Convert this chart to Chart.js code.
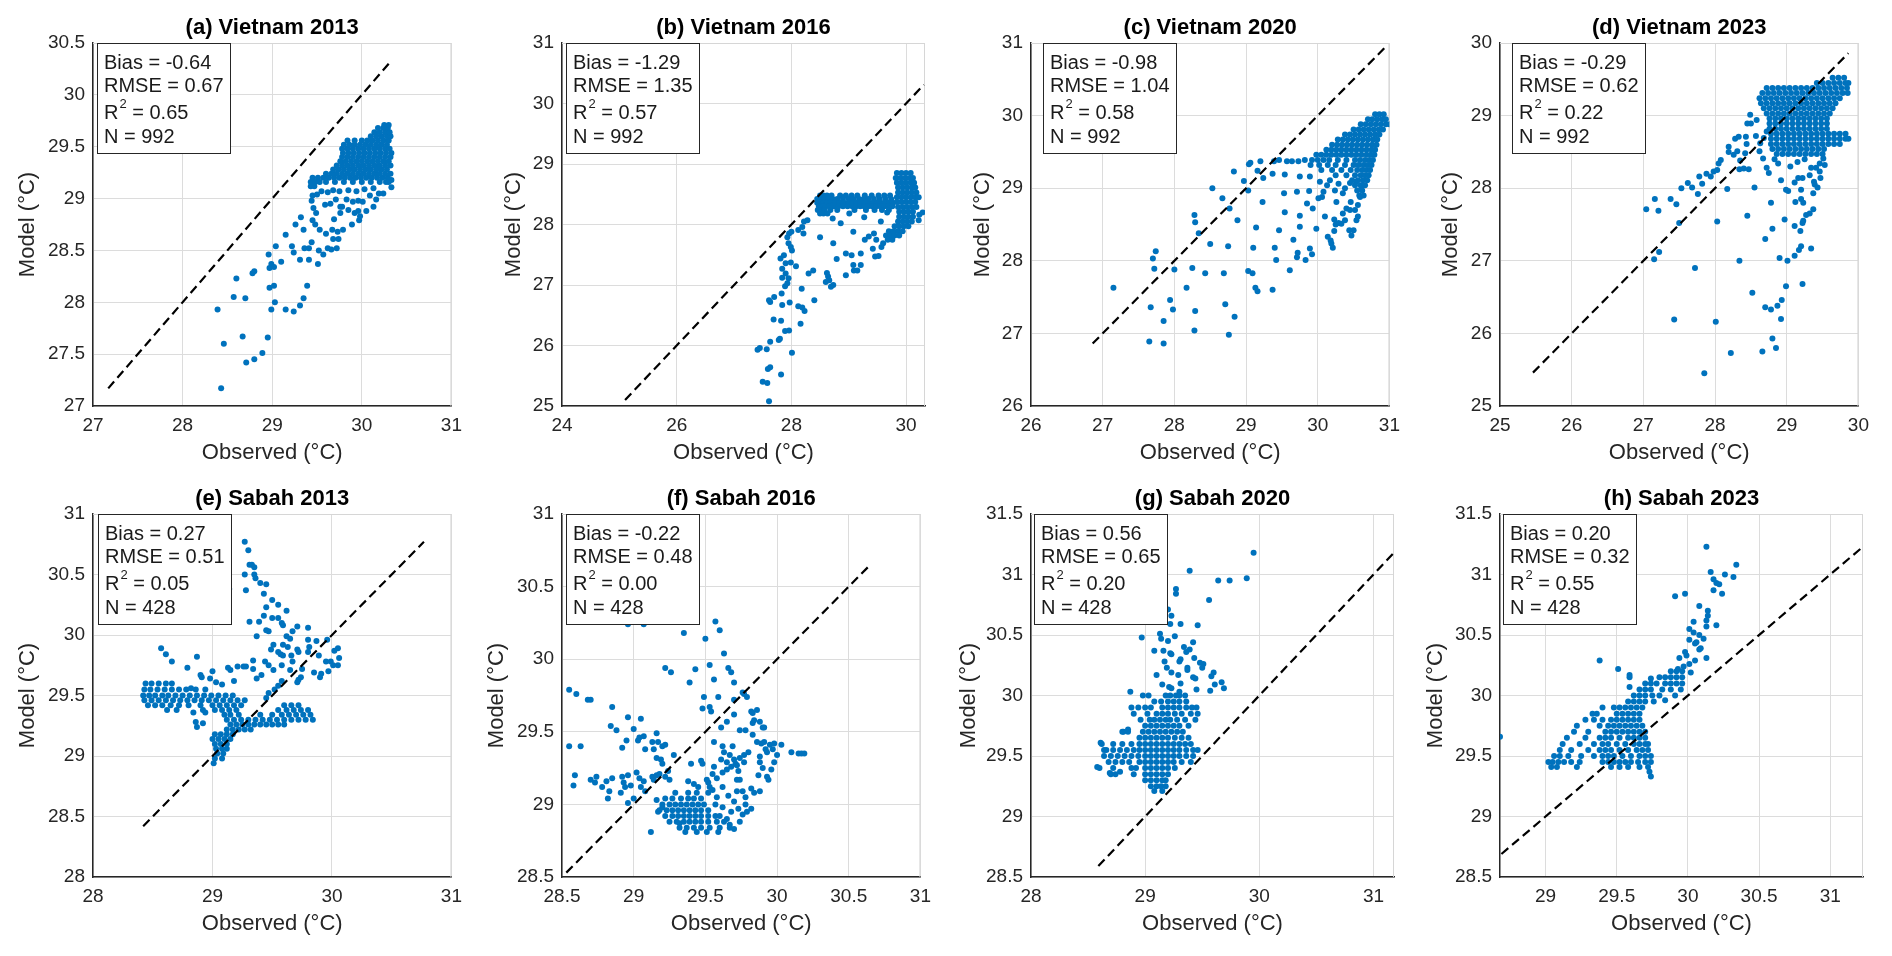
<!DOCTYPE html>
<html>
<head>
<meta charset="utf-8">
<script src="https://cdn.jsdelivr.net/npm/chart.js@4.4.1/dist/chart.umd.min.js"></script>
<style>
  html, body { margin: 0; padding: 0; background: #fff; }
  body { width: 1892px; height: 956px; position: relative; overflow: hidden; }
  canvas { position: absolute; }
</style>
</head>
<body>
<script>
// ---- panel texts ----
const titles = ['(a) Vietnam 2013', '(b) Vietnam 2016', '(c) Vietnam 2020', '(d) Vietnam 2023',
                '(e) Sabah 2013', '(f) Sabah 2016', '(g) Sabah 2020', '(h) Sabah 2023'];
const biasText = ['-0.64', '-1.29', '-0.98', '-0.29', '0.27', '-0.22', '0.56', '0.20'];
const rmseText = ['0.67', '1.35', '1.04', '0.62', '0.51', '0.48', '0.65', '0.32'];
const r2Text   = ['0.65', '0.57', '0.58', '0.22', '0.05', '0.00', '0.20', '0.55'];
const nText    = ['992', '992', '992', '992', '428', '428', '428', '428'];

// ---- axis limits and ticks ----
const xMin = [27, 24, 26, 25, 28, 28.5, 28, 28.68];
const xMax = [31, 30.33, 31, 30, 31, 31, 31.18, 31.23];
const yMin = [27, 25, 26, 25, 28, 28.5, 28.5, 28.5];
const yMax = [30.5, 31, 31, 30, 31, 31, 31.5, 31.5];
const xTicks = [
  [27, 28, 29, 30, 31], [24, 26, 28, 30], [26, 27, 28, 29, 30, 31], [25, 26, 27, 28, 29, 30],
  [28, 29, 30, 31], [28.5, 29, 29.5, 30, 30.5, 31], [28, 29, 30, 31], [29, 29.5, 30, 30.5, 31]
];
const yTicks = [
  [27, 27.5, 28, 28.5, 29, 29.5, 30, 30.5], [25, 26, 27, 28, 29, 30, 31], [26, 27, 28, 29, 30, 31],
  [25, 26, 27, 28, 29, 30], [28, 28.5, 29, 29.5, 30, 30.5, 31], [28.5, 29, 29.5, 30, 30.5, 31],
  [28.5, 29, 29.5, 30, 30.5, 31, 31.5], [28.5, 29, 29.5, 30, 30.5, 31, 31.5]
];
// 1:1 reference line ends
const lineFrom = [27.17, 25.1, 26.86, 25.46, 28.42, 28.53, 28.59, 28.69];
const lineTo   = [30.33, 30.31, 30.95, 29.86, 30.77, 30.65, 31.19, 31.23];

// ---- observed / model pairs ----
const vn2013 = [
  [28.43,27.17],[28.39,27.93],[28.46,27.60],[28.57,28.05],[28.60,28.23],[28.70,28.04],[28.67,27.67],[28.71,27.42],
  [28.80,27.45],[28.89,27.51],[28.95,27.66],[28.78,28.28],[28.80,28.30],[28.96,28.46],[28.97,28.33],[28.99,28.37],
  [29.02,28.34],[28.97,28.14],[29.02,28.16],[28.99,27.93],[29.03,28.00],[29.04,28.54],[29.10,28.39],[29.15,28.65],
  [29.15,27.93],[29.24,27.91],[29.22,28.54],[29.24,28.48],[29.26,28.75],[29.31,28.41],[29.31,27.97],[29.32,28.82],
  [29.35,28.04],[29.36,28.52],[29.39,28.16],[29.41,28.52],[29.41,28.41],[29.44,28.58],[29.35,28.70],[29.45,28.79],
  [29.48,28.75],[29.52,28.50],[29.51,28.37],[29.53,28.70],[29.57,28.46],[29.60,28.66],[29.62,28.52],[29.66,28.51],
  [29.67,28.70],[29.68,28.61],[29.72,28.52],[29.74,28.61],[29.73,28.68],[29.79,28.70],[29.69,28.80],[29.76,28.86],
  [29.78,28.92],[29.89,28.75],[29.97,28.79],[29.98,28.83],[30.05,28.88],[30.13,28.92],[30.16,28.99],[29.44,28.98],
  [29.45,29.03],[29.46,28.91],[29.49,28.86],[29.59,28.94],[29.65,28.95],[29.71,28.99],[29.76,28.92],[29.83,28.99],
  [29.85,28.89],[29.90,28.97],[29.92,28.86],[29.96,28.88],[29.96,28.98],[30.01,28.97],[30.09,29.03],[30.19,29.05],
  [30.24,29.05],[30.33,29.11],[30.27,29.16],[30.33,29.18],[29.50,29.04],[29.55,29.07],[29.62,29.06],[29.68,29.08],
  [29.75,29.07],[29.85,29.08],[29.94,29.07],[30.03,29.09],[30.13,29.10],
  [29.43,29.12],[29.47,29.12],
  [29.43,29.16],[29.48,29.16],[29.53,29.16],[29.60,29.16],[29.70,29.16],[29.80,29.16],[29.90,29.16],[30.00,29.16],[30.10,29.16],[30.20,29.16],[30.30,29.16],
  [29.45,29.20],[29.51,29.20],[29.57,29.20],[29.63,29.20],[29.69,29.20],[29.75,29.20],[29.81,29.20],[29.87,29.20],[29.93,29.20],[29.99,29.20],[30.05,29.20],[30.11,29.20],[30.17,29.20],[30.23,29.20],[30.29,29.20],
  [29.60,29.24],[29.66,29.24],[29.72,29.24],[29.78,29.24],[29.84,29.24],[29.90,29.24],[29.96,29.24],[30.02,29.24],[30.08,29.24],[30.14,29.24],[30.20,29.24],[30.26,29.24],[30.32,29.24],
  [29.68,29.28],[29.74,29.28],[29.80,29.28],[29.86,29.28],[29.92,29.28],[29.98,29.28],[30.04,29.28],[30.10,29.28],[30.16,29.28],[30.22,29.28],[30.28,29.28],
  [29.72,29.32],[29.78,29.32],[29.84,29.32],[29.90,29.32],[29.96,29.32],[30.02,29.32],[30.08,29.32],[30.14,29.32],[30.20,29.32],[30.26,29.32],[30.32,29.32],
  [29.76,29.36],[29.82,29.36],[29.88,29.36],[29.94,29.36],[30.00,29.36],[30.06,29.36],[30.12,29.36],[30.18,29.36],[30.24,29.36],[30.30,29.36],
  [29.78,29.40],[29.84,29.40],[29.90,29.40],[29.96,29.40],[30.02,29.40],[30.08,29.40],[30.14,29.40],[30.20,29.40],[30.26,29.40],[30.32,29.40],
  [29.79,29.44],[29.85,29.44],[29.91,29.44],[29.97,29.44],[30.03,29.44],[30.09,29.44],[30.15,29.44],[30.21,29.44],[30.27,29.44],[30.33,29.44],
  [29.78,29.48],[29.84,29.48],[29.90,29.48],[29.96,29.48],[30.02,29.48],[30.08,29.48],[30.14,29.48],[30.20,29.48],[30.26,29.48],[30.31,29.48],
  [29.80,29.52],[29.86,29.52],[29.92,29.52],[29.98,29.52],[30.04,29.52],[30.10,29.52],[30.16,29.52],[30.22,29.52],[30.28,29.52],
  [29.84,29.56],[29.92,29.56],[30.00,29.56],[30.06,29.56],[30.12,29.56],[30.18,29.56],[30.24,29.56],[30.30,29.56],
  [30.10,29.60],[30.16,29.60],[30.22,29.60],[30.28,29.60],[30.32,29.60],
  [30.14,29.64],[30.20,29.64],[30.26,29.64],[30.31,29.64],
  [30.18,29.68],[30.24,29.68],[30.29,29.68],[30.25,29.71],[30.30,29.71]
];

const vn2016 = [
  [27.61,25.08],[27.50,25.40],[27.58,25.38],[27.59,25.61],[27.63,25.64],[27.82,25.52],[27.41,25.93],[27.45,25.96],
  [27.57,25.94],[27.63,26.06],[28.01,25.88],[27.78,26.09],[27.80,26.11],[27.89,26.24],[27.96,26.25],[27.69,26.43],
  [27.82,26.41],[28.16,26.36],[27.63,26.72],[27.61,26.75],[27.70,26.80],[27.83,26.86],[27.84,26.67],[27.97,26.71],
  [28.12,26.65],[28.19,26.63],[28.23,26.57],[28.40,26.75],[28.18,26.94],[27.89,26.98],[27.93,27.03],[27.95,27.11],
  [27.84,27.12],[27.90,27.19],[27.84,27.27],[27.90,27.36],[27.99,27.37],[27.81,27.44],[27.87,27.49],[28.08,27.31],
  [28.01,27.57],[27.99,27.63],[27.95,27.69],[27.93,27.79],[27.96,27.85],[28.00,27.88],[28.12,27.91],[28.21,27.85],
  [28.19,27.96],[28.22,28.05],[28.28,28.07],[28.30,27.19],[28.38,27.24],[28.50,27.79],[28.62,27.20],[28.64,27.14],
  [28.60,27.05],[28.66,27.08],[28.69,26.97],[28.73,27.00],[28.73,27.69],[28.79,27.43],[28.95,27.52],[28.95,27.16],
  [29.05,27.49],[29.08,27.33],[29.09,27.24],[29.15,27.24],[29.21,27.52],[29.21,27.33],[29.08,27.88],[28.86,28.02],
  [29.28,27.75],[29.35,27.80],[29.42,27.60],[29.46,27.47],[29.52,27.48],[29.56,28.05],[29.57,27.63],[29.60,27.69],
  [29.67,28.20],[29.44,27.85],[29.48,27.75],[28.72,28.10],[29.01,28.18],[29.27,28.12],[30.22,28.07],[30.23,28.16],[30.29,28.20],
  [28.50,28.48],[28.56,28.48],[28.62,28.48],[28.70,28.48],[28.85,28.48],[28.95,28.48],[29.05,28.48],[29.15,28.48],[29.28,28.48],[29.40,28.48],[29.52,28.48],[29.62,28.48],[29.72,28.48],
  [28.45,28.42],[28.52,28.42],[28.58,28.42],[28.64,28.42],[28.72,28.42],[28.80,28.42],[28.90,28.42],[29.00,28.42],[29.08,28.42],[29.18,28.42],[29.26,28.42],[29.34,28.42],[29.44,28.42],[29.54,28.42],[29.64,28.42],[29.74,28.42],
  [28.45,28.36],[28.50,28.36],[28.56,28.36],[28.62,28.36],[28.68,28.36],[28.76,28.36],[28.84,28.36],[28.92,28.36],[29.00,28.36],[29.07,28.36],[29.14,28.36],[29.21,28.36],[29.28,28.36],[29.35,28.36],[29.42,28.36],[29.49,28.36],[29.56,28.36],[29.63,28.36],[29.70,28.36],[29.77,28.36],
  [28.48,28.30],[28.54,28.30],[28.60,28.30],[28.66,28.30],[28.74,28.30],[28.82,28.30],[28.90,28.30],[28.98,28.30],[29.06,28.30],[29.13,28.30],[29.20,28.30],[29.27,28.30],[29.34,28.30],[29.41,28.30],[29.48,28.30],[29.55,28.30],[29.62,28.30],[29.69,28.30],[29.76,28.30],
  [28.46,28.24],[28.52,28.24],[28.58,28.24],[28.68,28.24],[28.80,28.24],[29.10,28.24],[29.30,28.24],[29.45,28.24],[29.58,28.24],[29.70,28.24],
  [28.50,28.18],[28.56,28.18],[28.63,28.18],
  [29.84,28.85],[29.92,28.85],[30.00,28.85],[30.08,28.85],
  [29.82,28.77],[29.90,28.77],[29.98,28.77],[30.06,28.77],[30.12,28.77],
  [29.84,28.69],[29.92,28.69],[30.00,28.69],[30.08,28.69],[30.14,28.69],
  [29.86,28.61],[29.94,28.61],[30.02,28.61],[30.10,28.61],[30.16,28.61],
  [29.86,28.53],[29.94,28.53],[30.02,28.53],[30.10,28.53],[30.18,28.53],
  [29.84,28.45],[29.92,28.45],[30.00,28.45],[30.08,28.45],[30.16,28.45],[30.22,28.45],
  [29.84,28.37],[29.92,28.37],[30.00,28.37],[30.08,28.37],[30.16,28.37],
  [29.86,28.29],[29.94,28.29],[30.02,28.29],[30.10,28.29],[30.18,28.29],
  [29.88,28.21],[29.96,28.21],[30.04,28.21],[30.12,28.21],
  [29.88,28.13],[29.96,28.13],[30.04,28.13],[30.12,28.13],
  [29.86,28.05],[29.94,28.05],[30.02,28.05],[30.10,28.05],
  [29.80,27.97],[29.88,27.97],[29.96,27.97],[30.04,27.97],
  [29.70,27.89],[29.78,27.89],[29.86,27.89],[29.94,27.89],
  [29.65,27.82],[29.72,27.82],[29.80,27.82],[29.88,27.82],
  [29.68,27.75],[29.76,27.75]
];

const vn2020 = [
  [27.15,27.63],[27.65,26.89],[27.85,26.86],[27.67,27.36],[27.85,27.17],[27.94,27.46],[27.98,27.33],[27.70,28.03],
  [27.74,28.13],[27.72,27.89],[28.00,27.88],[28.17,27.63],[28.25,27.90],[28.28,28.63],[28.29,28.53],[28.34,28.38],
  [28.29,27.31],[28.28,27.04],[28.43,27.83],[28.50,28.23],[28.53,29.00],[28.67,28.86],[28.69,27.83],[28.75,28.20],
  [28.77,28.72],[28.71,27.40],[28.84,27.23],[28.76,26.98],[28.83,29.23],[28.88,28.56],[28.97,29.10],[29.03,28.97],
  [29.04,29.33],[29.06,29.35],[29.10,28.18],[29.03,27.86],[29.09,27.83],[29.13,27.63],[29.16,27.58],[29.14,28.46],
  [29.16,29.24],[29.20,29.37],[29.23,28.81],[29.24,29.14],[29.37,29.20],[29.37,27.60],[29.40,28.18],[29.42,28.01],
  [29.46,28.42],[29.53,28.93],[29.54,29.19],[29.54,28.67],[29.61,27.87],[29.66,28.29],[29.71,28.95],[29.71,28.05],
  [29.72,28.11],[29.75,28.62],[29.75,28.47],[29.75,29.16],[29.83,28.01],[29.85,28.79],[29.89,28.17],[29.92,28.09],
  [29.88,28.96],[29.93,28.72],[29.98,28.44],[29.89,29.16],[29.39,29.37],[29.46,29.39],[29.57,29.37],[29.64,29.37],
  [29.73,29.37],[29.82,29.39],[30.01,28.86],[30.06,28.88],[30.10,28.61],[30.14,28.33],[30.18,28.28],[30.21,28.18],
  [30.19,28.24],[30.23,28.41],[30.23,28.57],[30.25,28.50],[30.29,28.52],[30.33,28.51],[30.38,28.56],[30.44,28.42],
  [30.47,28.35],[30.50,28.42],[30.54,28.56],[30.56,28.61],[30.52,28.70],[30.46,28.81],[30.40,28.72],[30.35,28.65],
  [30.26,28.81],[30.24,28.97],[30.35,28.93],[30.29,29.06],[30.38,29.00],[30.45,29.07],[30.54,29.09],[30.59,28.88],
  [30.61,29.02],[30.56,28.77],[30.45,28.70],[30.08,28.95],[30.13,29.04],[30.17,29.11],[30.03,29.09],
  [30.80,30.02],[30.86,30.02],[30.92,30.02],
  [30.70,29.95],[30.76,29.95],[30.83,29.95],[30.90,29.95],[30.95,29.95],
  [30.60,29.88],[30.67,29.88],[30.74,29.88],[30.81,29.88],[30.88,29.88],[30.95,29.88],[31.00,29.88],
  [30.50,29.81],[30.57,29.81],[30.64,29.81],[30.71,29.81],[30.78,29.81],[30.85,29.81],[30.91,29.81],
  [30.38,29.74],[30.45,29.74],[30.52,29.74],[30.59,29.74],[30.66,29.74],[30.73,29.74],[30.80,29.74],[30.86,29.74],
  [30.28,29.67],[30.35,29.67],[30.42,29.67],[30.49,29.67],[30.56,29.67],[30.63,29.67],[30.70,29.67],[30.77,29.67],[30.83,29.67],
  [30.20,29.60],[30.27,29.60],[30.34,29.60],[30.41,29.60],[30.48,29.60],[30.55,29.60],[30.62,29.60],[30.69,29.60],[30.76,29.60],[30.82,29.60],
  [30.12,29.53],[30.19,29.53],[30.26,29.53],[30.33,29.53],[30.40,29.53],[30.47,29.53],[30.54,29.53],[30.61,29.53],[30.68,29.53],[30.75,29.53],[30.80,29.53],
  [29.98,29.46],[30.05,29.46],[30.12,29.46],[30.19,29.46],[30.26,29.46],[30.33,29.46],[30.40,29.46],[30.47,29.46],[30.54,29.46],[30.61,29.46],[30.68,29.46],[30.74,29.46],[30.79,29.46],
  [29.92,29.39],[30.00,29.39],[30.08,29.39],[30.16,29.39],[30.28,29.39],[30.40,29.39],[30.52,29.39],[30.59,29.39],[30.66,29.39],[30.72,29.39],[30.77,29.39],
  [29.90,29.32],[30.02,29.32],[30.14,29.32],[30.25,29.32],[30.38,29.32],[30.50,29.32],[30.57,29.32],[30.64,29.32],[30.70,29.32],[30.75,29.32],
  [30.05,29.25],[30.20,29.25],[30.33,29.25],[30.46,29.25],[30.55,29.25],[30.62,29.25],[30.68,29.25],[30.73,29.25],
  [30.25,29.18],[30.40,29.18],[30.52,29.18],[30.60,29.18],[30.66,29.18],[30.71,29.18],
  [30.48,29.11],[30.56,29.11],[30.63,29.11],[30.69,29.11],
  [30.52,29.04],[30.60,29.04],[30.66,29.04],
  [30.55,28.97],[30.62,28.97],[30.58,28.90],[30.64,28.90]
];

const vn2023 = [
  [27.85,25.45],[28.22,25.73],[28.66,25.75],[28.85,25.80],[28.80,25.93],[27.43,26.19],[28.01,26.16],[28.52,26.56],
  [28.70,26.36],[28.78,26.33],[28.87,26.38],[28.93,26.46],[28.92,26.20],[28.99,26.65],[29.22,26.68],[27.15,27.02],
  [27.22,27.12],[27.72,26.90],[28.34,27.00],[28.90,27.04],[29.01,27.00],[29.11,27.07],[29.17,27.15],[29.20,27.20],
  [29.34,27.17],[28.70,27.30],[28.80,27.44],[28.03,27.54],[28.45,27.62],[27.50,27.52],[27.04,27.71],[27.16,27.85],
  [27.21,27.69],[27.38,27.85],[27.46,27.78],[28.78,27.80],[28.97,27.57],[29.11,27.48],[29.19,27.41],[29.22,27.52],
  [29.23,27.55],[29.27,27.63],[29.32,27.65],[29.37,27.71],[29.12,27.81],[29.20,27.85],[29.23,27.80],[29.37,27.93],
  [29.39,28.05],[29.38,28.09],[29.20,27.98],[29.22,28.14],[28.99,27.98],[29.02,27.96],[28.92,28.11],[29.11,28.08],
  [29.16,28.14],[29.43,28.01],[29.47,28.14],[29.46,28.23],[29.32,28.18],[29.34,28.28],[28.55,28.01],[28.17,27.99],
  [27.53,28.00],[27.62,28.07],[27.68,28.01],[27.76,27.92],[27.82,28.06],[27.78,28.16],[27.88,28.20],[27.94,28.16],
  [27.98,28.23],[28.03,28.25],[28.05,28.34],[28.08,28.39],[28.19,28.50],[28.26,28.46],[28.19,28.57],[28.28,28.68],
  [28.33,28.71],[28.35,28.38],[28.34,28.26],[28.43,28.71],[28.44,28.61],[28.31,28.51],[28.42,28.48],[28.40,28.27],
  [28.47,28.26],[28.50,28.89],[28.45,28.89],[28.49,29.01],[28.58,28.94],[28.62,28.51],[28.63,28.62],[28.67,28.41],
  [28.72,28.28],[28.75,28.21],[28.57,28.72],[28.68,28.69],[28.72,28.78],[29.41,28.28],[29.46,28.34],[29.53,28.32],
  [29.51,28.41],[28.83,28.40],[28.88,28.34],[29.05,28.30],[29.15,28.36],[29.25,28.40],
  [29.64,29.52],[29.72,29.52],[29.80,29.52],
  [29.42,29.45],[29.50,29.45],[29.58,29.45],[29.66,29.45],[29.74,29.45],[29.82,29.45],[29.86,29.45],
  [28.72,29.38],[28.80,29.38],[28.88,29.38],[28.96,29.38],[29.04,29.38],[29.12,29.38],[29.20,29.38],[29.28,29.38],[29.36,29.38],[29.44,29.38],[29.52,29.38],[29.60,29.38],[29.68,29.38],[29.76,29.38],[29.84,29.38],
  [28.66,29.31],[28.74,29.31],[28.82,29.31],[28.90,29.31],[28.98,29.31],[29.06,29.31],[29.14,29.31],[29.22,29.31],[29.30,29.31],[29.38,29.31],[29.46,29.31],[29.54,29.31],[29.62,29.31],[29.70,29.31],[29.78,29.31],[29.85,29.31],
  [28.62,29.24],[28.70,29.24],[28.78,29.24],[28.86,29.24],[28.94,29.24],[29.02,29.24],[29.10,29.24],[29.18,29.24],[29.26,29.24],[29.34,29.24],[29.42,29.24],[29.50,29.24],[29.58,29.24],[29.66,29.24],[29.74,29.24],
  [28.64,29.17],[28.72,29.17],[28.80,29.17],[28.88,29.17],[28.96,29.17],[29.04,29.17],[29.12,29.17],[29.20,29.17],[29.28,29.17],[29.36,29.17],[29.44,29.17],[29.52,29.17],[29.60,29.17],[29.68,29.17],
  [28.68,29.10],[28.76,29.10],[28.84,29.10],[28.92,29.10],[29.00,29.10],[29.08,29.10],[29.16,29.10],[29.24,29.10],[29.32,29.10],[29.40,29.10],[29.48,29.10],[29.56,29.10],[29.64,29.10],
  [28.72,29.03],[28.80,29.03],[28.88,29.03],[28.96,29.03],[29.04,29.03],[29.12,29.03],[29.20,29.03],[29.28,29.03],[29.36,29.03],[29.44,29.03],[29.52,29.03],[29.60,29.03],
  [28.76,28.96],[28.84,28.96],[28.92,28.96],[29.00,28.96],[29.08,28.96],[29.16,28.96],[29.24,28.96],[29.32,28.96],[29.40,28.96],[29.48,28.96],[29.56,28.96],
  [28.76,28.89],[28.84,28.89],[28.92,28.89],[29.00,28.89],[29.08,28.89],[29.16,28.89],[29.24,28.89],[29.32,28.89],[29.40,28.89],[29.48,28.89],[29.56,28.89],
  [28.76,28.82],[28.84,28.82],[28.92,28.82],[29.00,28.82],[29.08,28.82],[29.16,28.82],[29.24,28.82],[29.32,28.82],[29.40,28.82],[29.48,28.82],[29.56,28.82],
  [28.78,28.75],[28.86,28.75],[28.94,28.75],[29.02,28.75],[29.10,28.75],[29.18,28.75],[29.26,28.75],[29.34,28.75],[29.42,28.75],[29.50,28.75],[29.58,28.75],[29.66,28.75],[29.74,28.75],[29.82,28.75],
  [28.78,28.68],[28.86,28.68],[28.94,28.68],[29.02,28.68],[29.10,28.68],[29.18,28.68],[29.26,28.68],[29.34,28.68],[29.42,28.68],[29.50,28.68],[29.58,28.68],[29.66,28.68],[29.74,28.68],[29.82,28.68],[29.86,28.68],
  [28.78,28.61],[28.86,28.61],[28.94,28.61],[29.02,28.61],[29.10,28.61],[29.18,28.61],[29.26,28.61],[29.34,28.61],[29.42,28.61],[29.50,28.61],[29.58,28.61],[29.66,28.61],[29.74,28.61],
  [28.80,28.54],[28.88,28.54],[28.96,28.54],[29.04,28.54],[29.12,28.54],[29.20,28.54],[29.28,28.54],[29.36,28.54],[29.44,28.54],[29.52,28.54],
  [28.86,28.47],[28.94,28.47],[29.02,28.47],[29.10,28.47],[29.18,28.47],[29.26,28.47],[29.34,28.47],[29.42,28.47],[29.50,28.47]
];

const sb2013 = [
  [29.27,30.77],[29.30,30.70],[29.31,30.58],[29.33,30.58],[29.35,30.56],[29.27,30.50],[29.35,30.50],[29.36,30.47],
  [29.40,30.43],[29.45,30.42],[29.28,30.37],[29.43,30.34],[29.50,30.29],[29.55,30.25],[29.45,30.23],[29.62,30.20],
  [29.43,30.16],[29.50,30.14],[29.55,30.14],[29.31,30.11],[29.39,30.11],[29.58,30.10],[29.59,30.08],[29.71,30.07],
  [29.80,30.06],[29.67,30.03],[29.45,30.04],[29.47,30.03],[29.37,29.99],[29.62,29.99],[29.65,29.97],[29.80,29.96],
  [29.87,29.95],[29.51,29.92],[29.59,29.92],[29.63,29.90],[29.71,29.88],[29.72,29.86],[29.49,29.88],[29.55,29.86],
  [29.57,29.84],[29.59,29.83],[29.66,29.83],[29.67,29.78],[29.80,29.86],[29.81,29.90],[29.89,29.83],[29.96,29.96],
  [30.05,29.89],[30.02,29.87],[30.06,29.81],[29.99,29.78],[30.05,29.75],[30.01,29.75],[29.97,29.70],[29.95,29.78],
  [29.91,29.68],[29.90,29.65],[29.85,29.69],[29.75,29.72],[29.74,29.65],[29.72,29.63],[29.71,29.61],[29.65,29.71],
  [29.58,29.75],[29.51,29.71],[29.47,29.75],[29.44,29.78],[29.41,29.67],[29.34,29.79],[29.37,29.64],[29.34,29.72],
  [29.28,29.74],[29.26,29.74],[29.21,29.74],[29.13,29.73],[29.15,29.71],[29.18,29.62],[29.08,29.59],[29.03,29.61],
  [29.00,29.70],[28.98,29.64],[28.90,29.67],[28.91,29.65],[28.87,29.82],[28.79,29.73],[28.66,29.78],[28.61,29.84],
  [28.57,29.89],[28.82,29.56],[28.84,29.36],[28.87,29.24],[28.86,29.28],[28.92,29.27],[28.94,29.36],[29.14,30.38],
  [29.45,29.48],[29.47,29.52],[29.52,29.55],[29.55,29.58],[29.58,29.62],
  [28.44,29.60],[28.49,29.60],[28.55,29.60],[28.61,29.60],[28.66,29.60],
  [28.43,29.55],[28.48,29.55],[28.54,29.55],[28.60,29.55],[28.66,29.55],[28.72,29.55],[28.78,29.55],[28.86,29.55],[28.94,29.55],
  [28.42,29.50],[28.47,29.50],[28.52,29.50],[28.58,29.50],[28.63,29.50],[28.69,29.50],[28.75,29.50],[28.81,29.50],[28.87,29.50],[28.93,29.50],[28.99,29.50],[29.05,29.50],[29.11,29.50],[29.17,29.50],
  [28.43,29.46],[28.49,29.46],[28.55,29.46],[28.61,29.46],[28.67,29.46],[28.73,29.46],[28.79,29.46],[28.85,29.46],[28.91,29.46],[28.97,29.46],[29.03,29.46],[29.09,29.46],[29.15,29.46],[29.21,29.46],[29.27,29.46],
  [28.46,29.42],[28.52,29.42],[28.58,29.42],[28.65,29.42],[28.72,29.42],[28.80,29.42],[28.90,29.42],[29.00,29.42],[29.06,29.42],[29.12,29.42],[29.18,29.42],[29.24,29.42],
  [28.62,29.38],[28.70,29.38],[28.92,29.38],[29.02,29.38],[29.08,29.38],[29.14,29.38],[29.20,29.38],
  [29.10,29.34],[29.15,29.34],[29.22,29.34],[29.12,29.30],[29.18,29.30],[29.24,29.30],
  [29.12,29.22],[29.17,29.22],[29.22,29.22],[29.27,29.22],[29.32,29.22],
  [29.15,29.26],[29.20,29.26],[29.25,29.26],[29.30,29.26],[29.35,29.26],[29.40,29.26],[29.45,29.26],[29.50,29.26],[29.55,29.26],[29.60,29.26],
  [29.30,29.30],[29.36,29.30],[29.42,29.30],[29.48,29.30],[29.54,29.30],[29.60,29.30],[29.66,29.30],[29.72,29.30],[29.78,29.30],[29.84,29.30],
  [29.40,29.34],[29.50,29.34],[29.58,29.34],[29.64,29.34],[29.70,29.34],[29.76,29.34],[29.82,29.34],
  [29.55,29.38],[29.62,29.38],[29.68,29.38],[29.74,29.38],[29.80,29.38],
  [29.60,29.42],[29.66,29.42],[29.72,29.42],
  [29.02,29.18],[29.07,29.18],[29.12,29.18],[29.17,29.18],
  [29.00,29.14],[29.05,29.14],[29.10,29.14],[29.15,29.14],
  [29.02,29.10],[29.07,29.10],[29.12,29.10],
  [29.03,29.06],[29.08,29.06],[29.12,29.06],
  [29.04,29.02],[29.09,29.02],[29.02,28.98],[29.08,28.98],[29.01,28.94]
];

const sb2016 = [
  [29.44,30.27],[29.57,30.26],[29.60,30.20],[29.35,30.18],[29.50,30.14],[29.63,30.04],[29.22,29.94],[29.26,29.91],
  [29.43,29.93],[29.53,29.96],[29.66,29.94],[29.68,29.91],[29.39,29.84],[29.56,29.86],[29.70,29.84],[29.77,29.76],
  [29.79,29.74],[29.76,29.77],[29.49,29.74],[29.59,29.74],[29.70,29.72],[29.48,29.66],[29.53,29.67],[29.54,29.64],
  [29.70,29.62],[29.65,29.57],[29.61,29.53],[29.74,29.51],[29.78,29.51],[29.82,29.64],[29.86,29.65],[29.83,29.63],
  [29.83,29.56],[29.84,29.58],[29.88,29.57],[29.90,29.53],[29.91,29.53],[29.83,29.48],[29.86,29.43],[29.89,29.42],
  [29.91,29.43],[29.95,29.41],[29.98,29.42],[30.03,29.41],[30.00,29.34],[30.10,29.36],[30.15,29.35],[30.17,29.35],
  [30.19,29.35],[29.97,29.38],[29.92,29.38],[29.93,29.36],[29.88,29.33],[29.88,29.29],[29.90,29.25],[29.87,29.20],
  [29.94,29.17],[29.93,29.19],[29.96,29.24],[29.98,29.29],[29.88,29.09],[29.84,29.08],[29.82,29.11],[29.78,29.05],
  [29.82,28.97],[29.79,28.95],[28.55,29.79],[28.60,29.76],[28.68,29.72],[28.70,29.72],[28.85,29.67],[28.96,29.60],
  [29.05,29.59],[28.84,29.54],[28.88,29.51],[29.00,29.52],[28.95,29.44],[29.03,29.44],[29.04,29.46],[29.07,29.47],
  [29.16,29.49],[29.13,29.43],[29.17,29.43],[29.20,29.40],[29.22,29.41],[29.14,29.38],[29.08,29.38],[28.92,29.39],
  [28.55,29.40],[28.63,29.40],[29.16,29.32],[29.19,29.31],[29.28,29.34],[29.20,29.28],[28.59,29.20],[28.58,29.13],
  [28.70,29.17],[28.74,29.19],[28.73,29.15],[28.78,29.12],[28.81,29.16],[28.83,29.09],[28.82,29.04],[28.85,29.18],
  [28.92,29.19],[28.93,29.15],[28.94,29.12],[28.91,29.08],[28.96,29.20],[28.98,29.13],[28.96,29.01],[29.00,29.04],
  [29.02,29.22],[29.04,29.18],[29.07,29.16],[29.08,29.09],[29.05,29.12],[29.13,29.19],[29.14,29.17],[29.16,29.20],
  [29.18,29.21],[29.24,29.23],[29.22,29.19],[29.25,29.17],[29.16,29.03],[29.12,28.81],[29.17,28.95],[29.20,28.98],
  [29.29,29.08],[29.32,28.87],[29.38,29.16],[29.40,29.28],[29.47,29.30],[29.48,29.28],[29.52,29.15],[29.51,29.17],
  [29.56,29.26],[29.55,29.21],[29.56,29.43],[29.62,29.40],[29.61,29.31],[29.63,29.36],[29.69,29.40],[29.67,29.34],
  [29.65,29.29],[29.70,29.31],[29.72,29.27],[29.77,29.29],[29.73,29.23],[29.74,29.17],[29.72,29.17],[29.76,29.09],
  [29.72,29.09],[28.96,30.24],[29.07,30.24],
  [29.38,29.08],[29.44,29.08],
  [29.22,29.04],[29.27,29.04],[29.33,29.04],[29.38,29.04],[29.42,29.04],[29.47,29.04],
  [29.20,29.00],[29.25,29.00],[29.29,29.00],[29.33,29.00],[29.37,29.00],[29.41,29.00],[29.45,29.00],[29.49,29.00],
  [29.18,28.96],[29.23,28.96],[29.27,28.96],[29.31,28.96],[29.35,28.96],[29.39,28.96],[29.43,28.96],[29.47,28.96],[29.52,28.96],
  [29.22,28.92],[29.27,28.92],[29.31,28.92],[29.35,28.92],[29.39,28.92],[29.43,28.92],[29.47,28.92],[29.52,28.92],[29.57,28.92],
  [29.25,28.88],[29.30,28.88],[29.35,28.88],[29.39,28.88],[29.43,28.88],[29.47,28.88],[29.52,28.88],[29.58,28.88],[29.63,28.88],
  [29.32,28.84],[29.37,28.84],[29.42,28.84],[29.47,28.84],[29.53,28.84],[29.60,28.84],[29.67,28.84],
  [29.36,28.81],[29.44,28.81],[29.51,28.81],[29.59,28.81],
  [29.55,29.10],[29.58,29.05],[29.57,29.00],[29.62,28.98],[29.60,28.92],[29.65,28.90],[29.68,28.95],[29.70,29.02],
  [29.66,29.06],[29.62,29.12],[29.67,28.86],[29.70,28.83],[29.74,28.88],[29.76,28.93],[29.78,29.00],[29.73,28.97],
  [29.52,29.08],[29.53,29.12],[29.45,29.12],[29.42,29.14],
  [29.58,29.18],[29.62,29.22],[29.65,29.24],[29.68,29.26],[29.71,29.28],[29.74,29.32],[29.77,29.34],[29.80,29.36]
];

const sb2020 = [
  [29.95,31.18],[29.39,31.03],[29.64,30.95],[29.74,30.95],[29.89,30.97],[29.27,30.88],[29.27,30.84],[29.56,30.79],
  [29.20,30.71],[29.23,30.66],[29.22,30.59],[29.31,30.59],[29.46,30.58],[28.97,30.48],[29.13,30.51],[29.14,30.47],
  [29.20,30.45],[29.26,30.49],[29.42,30.44],[29.34,30.40],[29.39,30.38],[29.08,30.37],[29.16,30.37],[29.36,30.36],
  [29.22,30.35],[29.23,30.34],[29.43,30.31],[29.31,30.30],[29.30,30.28],[29.17,30.28],[29.48,30.27],[29.51,30.26],
  [29.50,30.23],[29.19,30.23],[29.37,30.23],[29.37,30.21],[29.23,30.19],[29.10,30.17],[29.29,30.17],[29.42,30.15],
  [29.44,30.14],[29.60,30.19],[29.58,30.16],[29.61,30.09],[29.67,30.11],[29.69,30.06],[29.57,30.04],[29.45,30.05],
  [29.15,30.09],[29.21,30.07],[29.23,30.06],[29.31,30.10],[28.87,30.03],[29.30,30.03],[28.61,29.61],[28.58,29.41],
  [28.64,29.55],[28.69,29.36],[28.70,29.35],[28.78,29.37],[28.81,29.70],[28.85,29.72],
  [28.98,30.00],[29.03,30.00],[29.18,30.00],[29.22,30.00],[29.27,30.00],[29.30,30.00],[29.35,30.00],
  [29.08,29.95],[29.14,29.95],[29.20,29.95],[29.25,29.95],[29.30,29.95],[29.36,29.95],
  [28.88,29.90],[28.94,29.90],[29.00,29.90],[29.05,29.90],[29.15,29.90],[29.20,29.90],[29.25,29.90],[29.30,29.90],[29.36,29.90],[29.41,29.90],[29.45,29.90],
  [28.90,29.85],[29.02,29.85],[29.10,29.85],[29.15,29.85],[29.20,29.85],[29.26,29.85],[29.32,29.85],[29.40,29.85],[29.46,29.85],
  [28.96,29.80],[29.04,29.80],[29.08,29.80],[29.13,29.80],[29.18,29.80],[29.22,29.80],[29.28,29.80],[29.35,29.80],[29.44,29.80],
  [29.00,29.75],[29.05,29.75],[29.10,29.75],[29.15,29.75],[29.20,29.75],[29.25,29.75],[29.30,29.75],[29.38,29.75],
  [28.80,29.70],[28.85,29.70],[28.98,29.70],[29.03,29.70],[29.08,29.70],[29.13,29.70],[29.18,29.70],[29.23,29.70],[29.28,29.70],[29.33,29.70],
  [28.95,29.65],[29.00,29.65],[29.05,29.65],[29.10,29.65],[29.15,29.65],[29.20,29.65],[29.26,29.65],[29.32,29.65],[29.38,29.65],
  [28.62,29.60],[28.72,29.60],[28.80,29.60],[28.88,29.60],[28.95,29.60],[29.00,29.60],[29.05,29.60],[29.10,29.60],[29.15,29.60],[29.20,29.60],[29.25,29.60],[29.30,29.60],[29.35,29.60],[29.40,29.60],
  [28.66,29.55],[28.72,29.55],[28.78,29.55],[28.84,29.55],[28.90,29.55],[28.95,29.55],[29.00,29.55],[29.05,29.55],[29.10,29.55],[29.15,29.55],[29.20,29.55],[29.25,29.55],[29.30,29.55],[29.36,29.55],[29.42,29.55],[29.46,29.55],
  [28.64,29.50],[28.70,29.50],[28.76,29.50],[28.82,29.50],[28.88,29.50],[28.94,29.50],[29.00,29.50],[29.05,29.50],[29.10,29.50],[29.15,29.50],[29.20,29.50],[29.25,29.50],[29.30,29.50],[29.36,29.50],[29.42,29.50],
  [28.68,29.45],[28.74,29.45],[28.80,29.45],[28.86,29.45],[28.95,29.45],[29.00,29.45],[29.05,29.45],[29.10,29.45],[29.15,29.45],[29.20,29.45],[29.25,29.45],[29.32,29.45],[29.40,29.45],
  [28.60,29.40],[28.72,29.40],[28.88,29.40],[28.92,29.40],[29.00,29.40],[29.05,29.40],[29.10,29.40],[29.15,29.40],[29.20,29.40],[29.26,29.40],
  [28.74,29.35],[28.90,29.35],[29.00,29.35],[29.05,29.35],[29.10,29.35],[29.15,29.35],[29.20,29.35],
  [29.00,29.30],[29.05,29.30],[29.10,29.30],[29.15,29.30],[29.18,29.30],
  [29.05,29.25],[29.10,29.25],[29.14,29.25],[29.18,29.25],[29.08,29.21],[29.15,29.21]
];

const sb2023 = [
  [30.13,31.23],[30.34,31.08],[30.16,31.02],[30.26,31.00],[30.32,30.98],[30.18,30.96],[30.20,30.93],[30.22,30.92],
  [30.18,30.87],[30.24,30.84],[29.91,30.82],[29.98,30.84],[30.08,30.74],[30.14,30.70],[30.14,30.66],[30.13,30.62],
  [30.20,30.58],[30.13,30.57],[30.04,30.61],[30.01,30.55],[30.04,30.52],[30.01,30.46],[30.08,30.50],[30.11,30.47],
  [30.06,30.44],[30.05,30.43],[30.09,30.39],[30.08,30.38],[30.13,30.31],[29.38,30.29],[29.51,30.22],[29.98,30.36],
  [29.99,30.33],[29.94,30.31],[30.05,30.29],[30.01,30.26],[29.97,30.24],[29.93,30.22],[30.02,30.19],[29.59,30.17],
  [29.59,30.15],[29.74,30.14],[29.59,30.07],[29.91,30.00],[29.84,29.96],[28.68,29.66],
  [29.88,30.20],[29.92,30.20],[29.96,30.20],
  [29.80,30.15],[29.84,30.15],[29.88,30.15],[29.92,30.15],[29.96,30.15],
  [29.70,30.10],[29.74,30.10],[29.78,30.10],[29.84,30.10],[29.88,30.10],[29.92,30.10],[29.96,30.10],
  [29.66,30.05],[29.70,30.05],[29.74,30.05],[29.82,30.05],[29.88,30.05],[29.95,30.05],
  [29.62,30.00],[29.66,30.00],[29.70,30.00],[29.75,30.00],[29.80,30.00],
  [29.58,29.95],[29.62,29.95],[29.66,29.95],[29.70,29.95],[29.76,29.95],
  [29.40,29.90],[29.48,29.90],[29.52,29.90],[29.56,29.90],[29.60,29.90],[29.64,29.90],[29.68,29.90],
  [29.33,29.85],[29.36,29.85],[29.50,29.85],[29.54,29.85],[29.58,29.85],[29.62,29.85],[29.66,29.85],
  [29.28,29.80],[29.34,29.80],[29.40,29.80],[29.46,29.80],[29.50,29.80],[29.54,29.80],[29.58,29.80],[29.62,29.80],[29.66,29.80],
  [29.22,29.75],[29.38,29.75],[29.44,29.75],[29.48,29.75],[29.52,29.75],[29.56,29.75],[29.60,29.75],[29.64,29.75],[29.68,29.75],
  [29.20,29.70],[29.30,29.70],[29.42,29.70],[29.46,29.70],[29.50,29.70],[29.54,29.70],[29.58,29.70],[29.62,29.70],[29.66,29.70],[29.70,29.70],
  [29.15,29.65],[29.28,29.65],[29.38,29.65],[29.42,29.65],[29.46,29.65],[29.52,29.65],[29.58,29.65],[29.62,29.65],[29.66,29.65],[29.70,29.65],
  [29.12,29.60],[29.24,29.60],[29.34,29.60],[29.40,29.60],[29.44,29.60],[29.50,29.60],[29.56,29.60],[29.62,29.60],[29.66,29.60],[29.70,29.60],[29.72,29.60],
  [29.10,29.55],[29.18,29.55],[29.30,29.55],[29.38,29.55],[29.42,29.55],[29.46,29.55],[29.52,29.55],[29.58,29.55],[29.64,29.55],[29.68,29.55],[29.72,29.55],
  [29.06,29.50],[29.10,29.50],[29.16,29.50],[29.25,29.50],[29.34,29.50],[29.40,29.50],[29.44,29.50],[29.48,29.50],[29.54,29.50],[29.60,29.50],[29.66,29.50],[29.70,29.50],[29.74,29.50],
  [29.02,29.45],[29.05,29.45],[29.09,29.45],[29.13,29.45],[29.18,29.45],[29.24,29.45],[29.40,29.45],[29.44,29.45],[29.48,29.45],[29.52,29.45],[29.56,29.45],[29.60,29.45],[29.65,29.45],[29.70,29.45],[29.74,29.45],
  [29.04,29.41],[29.08,29.41],[29.22,29.41],[29.46,29.41],[29.52,29.41],[29.58,29.41],[29.66,29.41],[29.72,29.41],
  [29.73,29.37],[29.74,29.33]
];

const panelPoints = [vn2013, vn2016, vn2020, vn2023, sb2013, sb2016, sb2020, sb2023];

// ---- layout (pixels) ----
const FONT = '"Liberation Sans", Arial, Helvetica, sans-serif';
const INK = '#262626';
const BOX = 363;
const colLeft = [93, 562, 1031, 1500];
const rowTop = [43, 514];
const yAxisWidth = [78, 61, 61, 62, 78, 78, 75, 77];
const statsOffset = [4, 4, 12, 12, 5, 4, 3, 3];
const X_AXIS_H = 60;
const PAD_TOP = 40;
const PAD_RIGHT = 14;

Chart.defaults.font.family = FONT;

function fmtTick(v) {
  return Number.isInteger(v) ? String(v) : v.toFixed(1);
}

// title above the box, stats box in the corner, light frame on top/right
const panelDecor = {
  id: 'panelDecor',
  beforeDatasetsDraw(chart) {
    const a = chart.chartArea, ctx = chart.ctx;
    ctx.save();
    ctx.strokeStyle = '#d6d6d6';
    ctx.lineWidth = 1;
    ctx.beginPath();
    ctx.moveTo(a.left, a.top + 0.5); ctx.lineTo(a.right, a.top + 0.5);
    ctx.moveTo(a.right - 0.5, a.top); ctx.lineTo(a.right - 0.5, a.bottom);
    ctx.stroke();
    ctx.restore();
  },
  afterDraw(chart, args, opts) {
    const i = opts.idx;
    const a = chart.chartArea, ctx = chart.ctx;
    ctx.save();
    ctx.fillStyle = '#000';
    ctx.font = 'bold 22px ' + FONT;
    ctx.textAlign = 'center';
    ctx.textBaseline = 'middle';
    ctx.fillText(titles[i], (a.left + a.right) / 2, a.top - 15);

    const bx = Math.round(a.left + statsOffset[i]), by = Math.round(a.top);
    ctx.fillStyle = '#fff';
    ctx.fillRect(bx, by, 133, 110);
    ctx.strokeStyle = INK;
    ctx.lineWidth = 1;
    ctx.strokeRect(bx + 0.5, by + 0.5, 133, 110);

    ctx.fillStyle = '#1a1a1a';
    ctx.textAlign = 'left';
    ctx.font = '20px ' + FONT;
    const tx = bx + 7;
    ctx.fillText('Bias = ' + biasText[i], tx, by + 20);
    ctx.fillText('RMSE = ' + rmseText[i], tx, by + 43);
    ctx.fillText('R', tx, by + 70);
    const rw = ctx.measureText('R').width;
    ctx.font = '13px ' + FONT;
    ctx.fillText('2', tx + rw + 1, by + 61);
    const sw = ctx.measureText('2').width;
    ctx.font = '20px ' + FONT;
    ctx.fillText(' = ' + r2Text[i], tx + rw + 1 + sw, by + 70);
    ctx.fillText('N = ' + nText[i], tx, by + 94);
    ctx.restore();
  }
};

function axisCommon(label, ticksArr, isX, i) {
  return {
    type: 'linear',
    afterBuildTicks: s => { s.ticks = ticksArr.map(v => ({ value: v })); },
    afterFit: s => { if (isX) s.height = X_AXIS_H; else s.width = yAxisWidth[i]; },
    grid: { color: '#dcdcdc', lineWidth: 1, drawTicks: false },
    border: { color: INK, width: 1.5 },
    ticks: {
      color: INK, font: { size: 19 }, padding: 8,
      autoSkip: false, maxRotation: 0, callback: v => fmtTick(v)
    },
    title: { display: true, text: label, color: INK, font: { size: 22 }, padding: 0 }
  };
}

function drawPanel(i) {
  const col = i % 4, row = Math.floor(i / 4);
  const w = yAxisWidth[i] + BOX + PAD_RIGHT;
  const h = PAD_TOP + BOX + X_AXIS_H;
  const cv = document.createElement('canvas');
  cv.width = w; cv.height = h;
  cv.style.width = w + 'px'; cv.style.height = h + 'px';
  cv.style.left = (colLeft[col] - yAxisWidth[i]) + 'px';
  cv.style.top = (rowTop[row] - PAD_TOP) + 'px';
  document.body.appendChild(cv);

  const xs = axisCommon('Observed (°C)', xTicks[i], true, i);
  xs.min = xMin[i]; xs.max = xMax[i];
  const ys = axisCommon('Model (°C)', yTicks[i], false, i);
  ys.min = yMin[i]; ys.max = yMax[i];

  new Chart(cv, {
    type: 'scatter',
    data: {
      datasets: [
        {
          data: [{ x: lineFrom[i], y: lineFrom[i] }, { x: lineTo[i], y: lineTo[i] }],
          showLine: true, borderColor: '#000', borderWidth: 2.2, borderDash: [9, 5],
          pointRadius: 0, order: 0
        },
        {
          data: panelPoints[i].map(p => ({ x: p[0], y: p[1] })),
          backgroundColor: '#0072BD', borderWidth: 0, pointRadius: 3, order: 1
        }
      ]
    },
    options: {
      responsive: false,
      animation: false,
      layout: { padding: { top: PAD_TOP, right: PAD_RIGHT, left: 0, bottom: 0 } },
      plugins: { legend: { display: false }, tooltip: { enabled: false }, panelDecor: { idx: i } },
      scales: { x: xs, y: ys }
    },
    plugins: [panelDecor]
  });
}

for (let i = 0; i < 8; i++) drawPanel(i);
</script>
</body>
</html>
